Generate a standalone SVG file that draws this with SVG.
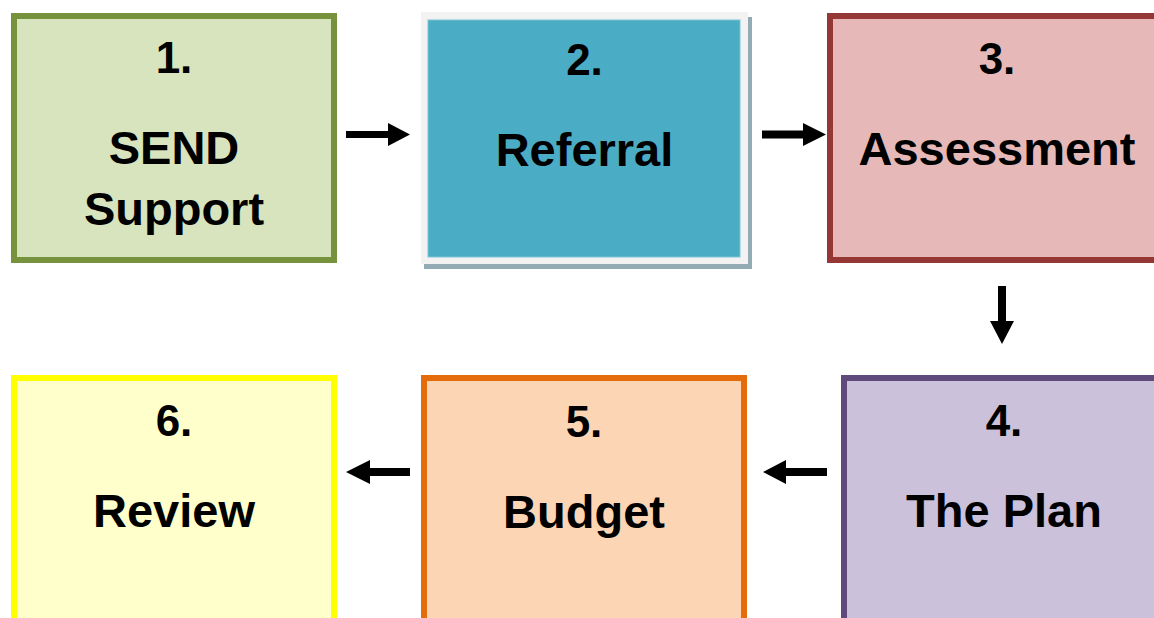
<svg xmlns="http://www.w3.org/2000/svg" width="1154" height="618" viewBox="0 0 1154 618">
<style>
.num{font-family:"Liberation Sans",Arial,sans-serif;font-weight:bold;font-size:44px;fill:#000;text-anchor:middle}
.lbl{font-family:"Liberation Sans",Arial,sans-serif;font-weight:bold;font-size:47px;fill:#000;text-anchor:middle}
.arrow{fill:#000}
</style>
<rect width="1154" height="618" fill="#fff"/>
<g id="node1">
<rect x="14" y="16" width="320" height="244" fill="#D7E4BD" stroke="#76923C" stroke-width="6"/>
<text class="num" x="174" y="73">1.</text>
<text class="lbl" x="174" y="164">SEND</text>
<text class="lbl" x="174" y="225">Support</text>
</g>
<g id="node2">
<rect x="424" y="17" width="328" height="252" fill="#93ABB5"/>
<rect x="421" y="12" width="327" height="252" fill="#F2F2F2"/>
<rect x="428" y="20" width="312" height="237" fill="#4BACC6" stroke="#7FC3D6" stroke-width="1"/>
<text class="num" x="584.5" y="75">2.</text>
<text class="lbl" x="584.5" y="166">Referral</text>
</g>
<g id="node3">
<rect x="830" y="16" width="334" height="244" fill="#E6B9B8" stroke="#953735" stroke-width="6"/>
<text class="num" x="997" y="74">3.</text>
<text class="lbl" x="997" y="165">Assessment</text>
</g>
<g id="node4">
<rect x="844" y="378" width="320" height="300" fill="#CCC1DA" stroke="#604A7B" stroke-width="6"/>
<text class="num" x="1004" y="436">4.</text>
<text class="lbl" x="1004" y="527">The Plan</text>
</g>
<g id="node5">
<rect x="424" y="378" width="320" height="300" fill="#FCD5B5" stroke="#E46C0A" stroke-width="6"/>
<text class="num" x="584" y="437">5.</text>
<text class="lbl" x="584" y="528">Budget</text>
</g>
<g id="node6">
<rect x="14" y="378" width="320" height="300" fill="#FFFFCC" stroke="#FFFF00" stroke-width="6"/>
<text class="num" x="174" y="436">6.</text>
<text class="lbl" x="174" y="527">Review</text>
</g>
<g id="connectors">
<polygon class="arrow" points="346,131 388,131 388,123 410,134.5 388,146 388,138 346,138"/>
<polygon class="arrow" points="762,130.5 803,130.5 803,123 826,134.5 803,146 803,138.5 762,138.5"/>
<polygon class="arrow" points="998,286 1006,286 1006,321 1014,321 1002,344 990,321 998,321"/>
<polygon class="arrow" points="410,468 370,468 370,460 346,472 370,484 370,476 410,476"/>
<polygon class="arrow" points="827,468 786,468 786,460 763,472 786,484 786,476 827,476"/>
</g>
</svg>
